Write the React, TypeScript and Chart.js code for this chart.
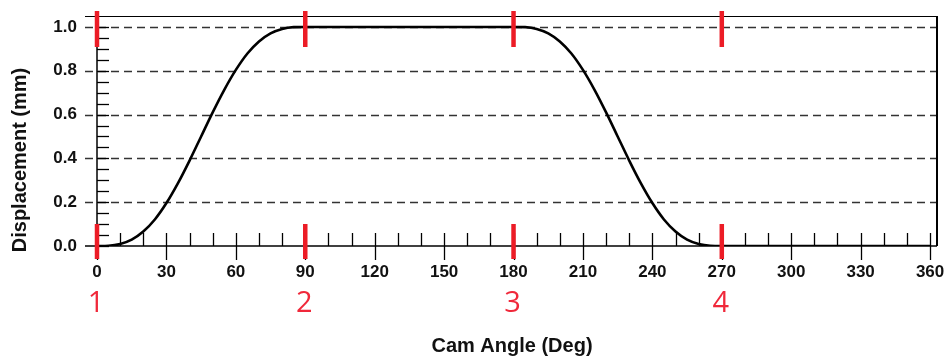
import React, { useEffect, useRef } from "react";
import { Chart, registerables } from "chart.js";

Chart.register(...registerables);

// ---- data ----
const camAngles = [
  0, 5, 10, 15, 20, 25, 30, 35, 40, 45, 50, 55, 60, 65, 70, 75, 80, 85, 90,
  180, 185, 190, 195, 200, 205, 210, 215, 220, 225, 230, 235, 240, 245, 250, 255, 260, 265, 270,
  360,
];
const displacement = [
  0, 0.001, 0.009, 0.029, 0.066, 0.121, 0.196, 0.287, 0.39, 0.5, 0.61, 0.713, 0.804, 0.879, 0.934, 0.971, 0.991, 0.999, 1,
  1, 0.999, 0.991, 0.971, 0.934, 0.879, 0.804, 0.713, 0.61, 0.5, 0.39, 0.287, 0.196, 0.121, 0.066, 0.029, 0.009, 0.001, 0,
  0,
];
const xTickValues = [0, 30, 60, 90, 120, 150, 180, 210, 240, 270, 300, 330, 360];
const xMinorTickValues = [
  0, 10, 20, 30, 40, 50, 60, 70, 80, 90, 100, 110, 120, 130, 140, 150, 160, 170, 180,
  190, 200, 210, 220, 230, 240, 250, 260, 270, 280, 290, 300, 310, 320, 330, 340, 350, 360,
];
const yTickValues = [0, 0.2, 0.4, 0.6, 0.8, 1.0];
const yMinorTickValues = [
  0, 0.05, 0.1, 0.15, 0.2, 0.25, 0.3, 0.35, 0.4, 0.45, 0.5, 0.55, 0.6, 0.65, 0.7, 0.75, 0.8, 0.85, 0.9, 0.95, 1.0,
];
const markerAngles = [0, 90, 180, 270];
const markerLabels = ["1", "2", "3", "4"];
const xTitle = "Cam Angle (Deg)";
const yTitle = "Displacement (mm)";
const xMin = 0;
const xMax = 363;
const yMin = 0;
const yMax = 1.05;

const RED = "#ec1c26";
const TICK_FONT = "Liberation Sans";

const zeroPad = (s: any) => {
  s.paddingTop = 0;
  s.paddingBottom = 0;
  s.paddingLeft = 0;
  s.paddingRight = 0;
};

const decorPlugin = {
  id: "decor",
  beforeDatasetsDraw(chart: any) {
    const { ctx, chartArea, scales } = chart;
    const { left, right, top, bottom } = chartArea;
    const xs = scales.x;
    const ys = scales.y;
    ctx.save();
    // dashed grid
    ctx.strokeStyle = "#333";
    ctx.lineWidth = 1.4;
    ctx.setLineDash([8, 5]);
    yTickValues.forEach((v) => {
      if (v === 0) return;
      const y = Math.round(ys.getPixelForValue(v)) + 0.5;
      ctx.beginPath();
      ctx.moveTo(left - 12, y);
      ctx.lineTo(right, y);
      ctx.stroke();
    });
    ctx.setLineDash([]);
    // border / axes
    ctx.strokeStyle = "#000";
    ctx.lineWidth = 1.2;
    ctx.beginPath();
    ctx.moveTo(left - 12, top + 0.5);
    ctx.lineTo(right, top + 0.5);
    ctx.stroke();
    ctx.lineWidth = 2;
    ctx.beginPath();
    ctx.moveTo(right, top);
    ctx.lineTo(right, bottom);
    ctx.stroke();
    ctx.lineWidth = 1.5;
    const y0 = ys.getPixelForValue(0);
    ctx.beginPath();
    ctx.moveTo(left - 12, y0);
    ctx.lineTo(right, y0);
    ctx.stroke();
    ctx.beginPath();
    ctx.moveTo(left, top);
    ctx.lineTo(left, bottom);
    ctx.stroke();
    // y minor ticks (inside)
    ctx.lineWidth = 1.3;
    yMinorTickValues.forEach((v) => {
      const y = Math.round(ys.getPixelForValue(v)) + 0.5;
      ctx.beginPath();
      ctx.moveTo(left, y);
      ctx.lineTo(left + 12, y);
      ctx.stroke();
    });
    // x ticks (inside)
    xMinorTickValues.forEach((v) => {
      const x = Math.round(xs.getPixelForValue(v)) + 0.5;
      ctx.beginPath();
      ctx.moveTo(x, bottom);
      ctx.lineTo(x, bottom - 13);
      ctx.stroke();
    });
    // x major ticks (outside)
    xTickValues.forEach((v) => {
      const x = Math.round(xs.getPixelForValue(v)) + 0.5;
      ctx.beginPath();
      ctx.moveTo(x, bottom);
      ctx.lineTo(x, bottom + 14);
      ctx.stroke();
    });
    ctx.restore();
  },
  afterDatasetsDraw(chart: any) {
    const { ctx, chartArea, scales } = chart;
    const { top, bottom } = chartArea;
    const xs = scales.x;
    ctx.save();
    ctx.strokeStyle = RED;
    ctx.lineWidth = 4.5;
    markerAngles.forEach((a, i) => {
      const x = xs.getPixelForValue(a);
      ctx.beginPath();
      ctx.moveTo(x, top - 5);
      ctx.lineTo(x, top + 31);
      ctx.stroke();
      ctx.beginPath();
      ctx.moveTo(x, bottom - 22);
      ctx.lineTo(x, bottom + 13);
      ctx.stroke();
      ctx.fillStyle = "#f0283a";
      ctx.font = '400 29px "Open Sans"';
      ctx.textAlign = "center";
      ctx.textBaseline = "middle";
      ctx.fillText(markerLabels[i], x - 1, 304);
    });
    // titles
    ctx.fillStyle = "#111";
    ctx.font = `bold 20px "${TICK_FONT}"`;
    ctx.textAlign = "center";
    ctx.textBaseline = "middle";
    ctx.fillText(xTitle, 512, 346);
    ctx.translate(20, 160);
    ctx.rotate(-Math.PI / 2);
    ctx.fillText(yTitle, 0, 0);
    ctx.restore();
  },
};

export default function App() {
  const canvasRef = useRef<HTMLCanvasElement | null>(null);

  useEffect(() => {
    if (!canvasRef.current) return;
    const points = camAngles.map((a, i) => ({ x: a, y: displacement[i] }));
    const chart = new Chart(canvasRef.current, {
      type: "line",
      data: {
        datasets: [
          {
            data: points,
            borderColor: "#000",
            borderWidth: 2.6,
            pointRadius: 0,
            cubicInterpolationMode: "monotone",
            fill: false,
          },
        ],
      },
      options: {
        animation: false,
        responsive: false,
        maintainAspectRatio: false,
        devicePixelRatio: 1,
        layout: { padding: { top: 16, right: 11, left: 0, bottom: 0 } },
        plugins: { legend: { display: false }, tooltip: { enabled: false } },
        scales: {
          x: {
            type: "linear",
            min: xMin,
            max: xMax,
            afterBuildTicks: (s: any) => {
              s.ticks = xTickValues.map((v) => ({ value: v }));
            },
            afterFit: (s: any) => {
              s.height = 114;
              zeroPad(s);
            },
            grid: { display: false, drawTicks: false },
            border: { display: false },
            ticks: {
              autoSkip: false,
              maxRotation: 0,
              padding: 16,
              color: "#111",
              font: { family: TICK_FONT, weight: "bold", size: 17 },
              callback: (v: any) => String(v),
            },
          },
          y: {
            type: "linear",
            min: yMin,
            max: yMax,
            afterBuildTicks: (s: any) => {
              s.ticks = yTickValues.map((v) => ({ value: v }));
            },
            afterFit: (s: any) => {
              s.width = 97;
              zeroPad(s);
            },
            grid: { display: false, drawTicks: false },
            border: { display: false },
            ticks: {
              autoSkip: false,
              padding: 20,
              color: "#111",
              font: { family: TICK_FONT, weight: "bold", size: 17 },
              callback: (v: any) => Number(v).toFixed(1),
            },
          },
        },
      },
      plugins: [decorPlugin],
    } as any);
    return () => chart.destroy();
  }, []);

  return (
    <div style={{ position: "absolute", left: 0, top: 0, width: 948, height: 360, background: "#fff" }}>
      <canvas ref={canvasRef} width={948} height={360} style={{ width: 948, height: 360 }} />
    </div>
  );
}
